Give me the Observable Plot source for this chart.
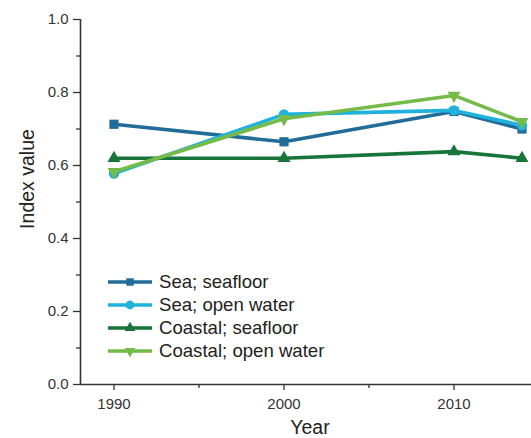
<!DOCTYPE html>
<html>
<head>
<meta charset="utf-8">
<script src="https://cdn.jsdelivr.net/npm/d3@7"></script>
<script src="https://cdn.jsdelivr.net/npm/@observablehq/plot@0.6"></script>
<style>
  html, body { margin: 0; padding: 0; background: #fff; }
  #wrap { position: relative; width: 531px; height: 438px; font-family: "Liberation Sans", Arial, sans-serif; }
  #legend { position: absolute; left: 106px; top: 270px; font-size: 18.6px; color: #222; }
  #legend .row { display: flex; align-items: center; height: 23px; }
  #legend svg { margin-right: 5px; }
</style>
</head>
<body>
<div id="wrap"><div id="legend"></div></div>
<script>
// ---- data ----
const years = [1990, 2000, 2010, 2014];
const seriesNames = ["Sea; seafloor", "Sea; open water", "Coastal; seafloor", "Coastal; open water"];
const seaSeafloor = [0.713, 0.665, 0.748, 0.700];
const seaOpenWater = [0.578, 0.740, 0.751, 0.710];
const coastalSeafloor = [0.620, 0.620, 0.638, 0.620];
const coastalOpenWater = [0.583, 0.728, 0.792, 0.720];
const yTicks = [0, 0.2, 0.4, 0.6, 0.8, 1.0];
const yMinorTicks = [0.1, 0.3, 0.5, 0.7, 0.9];
const xTicks = [1990, 2000, 2010];
const xMinorTicks = [1995, 2005];

// ---- styles ----
const colors = ["#216c99", "#1fb2dc", "#177539", "#74bb49"];
const triangleDown = {
  draw(context, size) {
    const s3 = Math.sqrt(3);
    const y = -Math.sqrt(size / (s3 * 3));
    context.moveTo(0, -y * 2);
    context.lineTo(-s3 * y, y);
    context.lineTo(s3 * y, y);
    context.closePath();
  }
};
const symbols = [d3.symbolSquare, d3.symbolCircle, d3.symbolTriangle, triangleDown];
const radii = [5.2, 5.2, 4.8, 4.8];
const legendRadii = [4.2, 4.4, 4.0, 4.0];
const valueArrays = [seaSeafloor, seaOpenWater, coastalSeafloor, coastalOpenWater];

const series = seriesNames.map((name, i) => ({
  name,
  color: colors[i],
  symbol: symbols[i],
  r: radii[i],
  lr: legendRadii[i],
  data: years.map((year, j) => ({ year, value: valueArrays[i][j], series: name }))
}));

const marks = [];
for (const s of series) {
  marks.push(Plot.line(s.data, { x: "year", y: "value", stroke: s.color, strokeWidth: 3.6 }));
  marks.push(Plot.dot(s.data, { x: "year", y: "value", fill: s.color, symbol: s.symbol, r: s.r, stroke: "none" }));
}

const axisColor = "#333";
const chart = Plot.plot({
  width: 531,
  height: 438,
  marginLeft: 80,
  marginRight: 0,
  marginTop: 19,
  marginBottom: 54,
  style: { fontFamily: "Liberation Sans, Arial, sans-serif", background: "#fff", color: "#333" },
  x: { domain: [1988.03, 2014.56] },
  y: { domain: [0, 1] },
  marks: [
    Plot.axisY(yMinorTicks, { tickSize: 4, text: null, stroke: axisColor, strokeWidth: 1.3, label: null }),
    Plot.axisY(yTicks, { tickSize: 7, tickPadding: 5, tickFormat: d3.format(".1f"), fontSize: 15, fill: "#333", stroke: axisColor, strokeWidth: 1.3, label: null }),
    Plot.axisX(xMinorTicks, { tickSize: 4, text: null, stroke: axisColor, strokeWidth: 1.3, label: null }),
    Plot.axisX(xTicks, { tickSize: 6, tickPadding: 8, tickFormat: d => String(d), fontSize: 15, fill: "#333", stroke: axisColor, strokeWidth: 1.3, label: null }),
    Plot.ruleX([1988.03], { stroke: axisColor, strokeWidth: 1.6 }),
    Plot.ruleY([0], { stroke: axisColor, strokeWidth: 1.6 }),
    ...marks,
    Plot.text(["Index value"], { frameAnchor: "left", rotate: -90, dx: -53, dy: -23, fontSize: 19.5, fill: "#222", lineAnchor: "middle", textAnchor: "middle" }),
    Plot.text(["Year"], { frameAnchor: "bottom", dx: 4, dy: 43, fontSize: 19.5, fill: "#222", lineAnchor: "middle", textAnchor: "middle" })
  ]
});
document.getElementById("wrap").prepend(chart);

// ---- legend (HTML overlay) ----
const legend = document.getElementById("legend");
for (const s of series) {
  const row = document.createElement("div");
  row.className = "row";
  const svg = d3.create("svg").attr("width", 48).attr("height", 20);
  svg.append("line").attr("x1", 2).attr("x2", 46).attr("y1", 10).attr("y2", 10)
    .attr("stroke", s.color).attr("stroke-width", 3.4);
  svg.append("path").attr("transform", "translate(24,10)")
    .attr("d", d3.symbol(s.symbol, Math.PI * s.lr * s.lr)()).attr("fill", s.color);
  row.appendChild(svg.node());
  const span = document.createElement("span");
  span.textContent = s.name;
  row.appendChild(span);
  legend.appendChild(row);
}
</script>
</body>
</html>
